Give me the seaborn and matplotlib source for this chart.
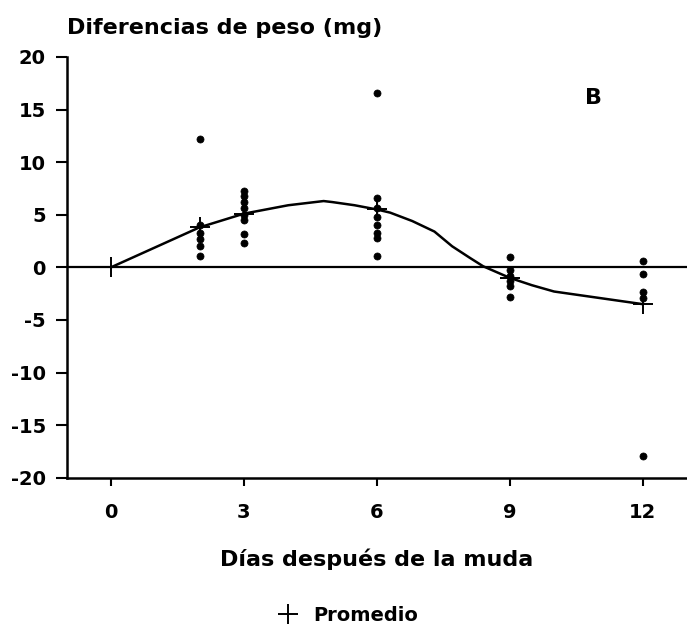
import numpy as np
import pandas as pd
import seaborn as sns
import matplotlib.pyplot as plt
from matplotlib.lines import Line2D

sns.set_style("white")
plt.rcParams['font.family'] = ['DejaVu Sans']
plt.rcParams['font.weight'] = 'bold'
plt.rcParams['axes.unicode_minus'] = False
plt.rcParams['text.color'] = 'black'
plt.rcParams['xtick.color'] = 'black'
plt.rcParams['ytick.color'] = 'black'
plt.rcParams['axes.labelcolor'] = 'black'

# individual weight differences (mg) per day after moult
dia_2 = [12.2, 4.0, 3.3, 2.7, 2.0, 1.1]
dia_3 = [7.3, 6.8, 6.2, 5.6, 5.0, 4.5, 3.2, 2.3]
dia_6 = [16.6, 6.6, 5.6, 4.8, 4.0, 3.3, 2.8, 1.1]
dia_9 = [1.0, -0.3, -0.8, -1.3, -1.8, -2.8]
dia_12 = [0.6, -0.6, -2.3, -2.9, -17.9]

# means (Promedio)
dias_prom = [0, 2, 3, 6, 9, 12]
promedio = [0.0, 3.8, 5.1, 5.5, -1.0, -3.5]

# smoothed curve
curva_x = [0, 1, 2, 3, 4, 4.8, 5, 5.5, 6, 6.3, 6.8, 7.3, 7.7, 8.1, 8.4, 9, 9.5, 10, 11, 12]
curva_y = [0.0, 1.9, 3.8, 5.1, 5.9, 6.3, 6.2, 5.9, 5.5, 5.2, 4.4, 3.4, 2.0, 0.9, 0.1, -1.0, -1.7, -2.3, -2.9, -3.5]

puntos = pd.DataFrame({
    'dia': [2] * len(dia_2) + [3] * len(dia_3) + [6] * len(dia_6) + [9] * len(dia_9) + [12] * len(dia_12),
    'dif': dia_2 + dia_3 + dia_6 + dia_9 + dia_12,
})

fig = plt.figure(figsize=(6.87, 6.29), dpi=100)
ax = fig.add_axes([0.097, 0.2405, 0.903, 0.669])

ax.axhline(0, color='black', lw=1.6, zorder=1)
sns.lineplot(x=curva_x, y=curva_y, color='black', lw=1.8, ax=ax, zorder=2)
sns.scatterplot(data=puntos, x='dia', y='dif', color='black', marker='o', s=26,
                edgecolor='black', linewidth=0.5, ax=ax, zorder=3)
sns.scatterplot(x=dias_prom, y=promedio, color='black', marker='+', s=220,
                linewidth=1.4, ax=ax, zorder=4)

ax.set_xlim(-1, 13)
ax.set_ylim(-20, 20)
ax.set_xticks([0, 3, 6, 9, 12])
ax.set_yticks(range(-20, 21, 5))

for s in ['top', 'right']:
    ax.spines[s].set_visible(False)
for s in ['left', 'bottom']:
    ax.spines[s].set_linewidth(1.8)
    ax.spines[s].set_color('black')

ax.tick_params(axis='y', direction='out', length=8, width=1.5, pad=7, labelsize=14, left=True)
ax.tick_params(axis='x', direction='out', length=6, width=1.5, pad=12, labelsize=14, bottom=True)

ax.set_xlabel('Días después de la muda', fontsize=16, fontweight='bold', labelpad=19)
ax.set_ylabel('')
fig.text(0.097, 0.955, 'Diferencias de peso (mg)', fontsize=16, fontweight='bold', ha='left', va='center')
ax.text(10.9, 16.1, 'B', fontsize=16, fontweight='bold', ha='center', va='center')

handle = Line2D([], [], color='black', marker='+', linestyle='none', markersize=14, markeredgewidth=1.4)
fig.legend([handle], ['Promedio'], loc='center', bbox_to_anchor=(0.5, 0.022),
           frameon=False, fontsize=14, handletextpad=0.3)

fig.savefig('out.png', dpi=100)
